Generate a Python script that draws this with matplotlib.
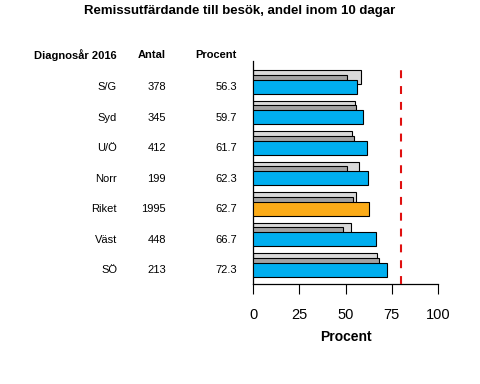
import matplotlib as mpl; mpl.use('Agg')
import matplotlib.pyplot as plt
import matplotlib.transforms as mtransforms

mpl.rcParams.update({'font.family': ['Liberation Sans', 'DejaVu Sans']})

regions = ['S/G', 'Syd', 'U/Ö', 'Norr', 'Riket', 'Väst', 'SÖ']
antal = [378, 345, 412, 199, 1995, 448, 213]
procent = [56.3, 59.7, 61.7, 62.3, 62.7, 66.7, 72.3]
prev2 = [58.2, 55.0, 53.3, 57.5, 55.9, 53.2, 67.2]   # light grey, back
prev1 = [50.6, 55.9, 54.8, 50.6, 54.2, 48.8, 68.3]   # dark grey, middle
target = 80
BLUE = '#00aeef'; ORANGE = '#fbab18'; LGREY = '#d9d9d9'; DGREY = '#a3a3a3'

fig = plt.figure(figsize=(4.8, 3.84), dpi=100)
ax = fig.add_axes([253 / 480, 1 - 284 / 384, 185 / 480, 223 / 384])

ys = list(range(len(regions)))
h = 0.46; off = 0.152
ax.barh([y - off for y in ys], prev2, height=h, color=LGREY, edgecolor='black', lw=0.8, zorder=2)
ax.barh(ys, prev1, height=h, color=DGREY, edgecolor='black', lw=0.8, zorder=3)
cols = [ORANGE if r == 'Riket' else BLUE for r in regions]
ax.barh([y + off for y in ys], procent, height=h, color=cols, edgecolor='black', lw=0.8, zorder=4)

ax.axvline(target, ymin=0, ymax=0.969, color='#e01010', lw=1.5, ls=(0, (3.8, 3.8)), zorder=5)

ax.set_xlim(0, 100)
ax.set_ylim(6.623, -0.689)
ax.set_yticks([])
ax.set_xticks([0, 25, 50, 75, 100])
ax.tick_params(axis='x', length=7, width=0.8, pad=10, labelsize=10.5)
for s in ('top', 'right'):
    ax.spines[s].set_visible(False)
ax.spines['bottom'].set_bounds(0, 100)
ax.spines['left'].set_linewidth(0.9)
ax.spines['bottom'].set_linewidth(0.9)
ax.set_xlabel('Procent', fontsize=10, fontweight='bold', labelpad=6)

tr = mtransforms.blended_transform_factory(fig.transFigure, ax.transData)
colx = [117 / 480, 166 / 480, 237 / 480]
heads = ['Diagnosår 2016', 'Antal', 'Procent']
for x, t in zip(colx, heads):
    ax.text(x, -0.885, t, transform=tr, ha='right', va='center', fontsize=8,
            fontweight='bold', clip_on=False)
for y, r, n, p in zip(ys, regions, antal, procent):
    ax.text(colx[0], y + 0.17, r, transform=tr, ha='right', va='center', fontsize=8, clip_on=False)
    ax.text(colx[1], y + 0.17, str(n), transform=tr, ha='right', va='center', fontsize=8, clip_on=False)
    ax.text(colx[2], y + 0.17, f'{p:.1f}', transform=tr, ha='right', va='center', fontsize=8, clip_on=False)

fig.text(0.5, 1 - 11 / 384, 'Remissutfärdande till besök, andel inom 10 dagar',
         ha='center', va='center', fontsize=9.5, fontweight='bold')

fig.savefig('out.png', dpi=100)
